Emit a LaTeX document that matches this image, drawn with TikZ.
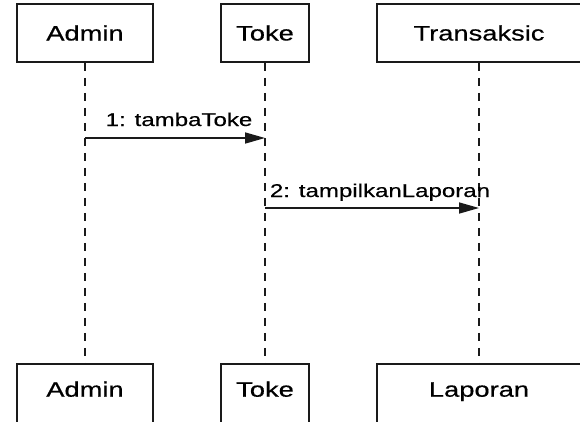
\documentclass[tikz,border=0pt]{standalone}
\usepackage{fontspec}
\setmainfont{Liberation Sans}[FakeBold=0.4]
\usetikzlibrary{arrows.meta}
\definecolor{ink}{HTML}{1A1A1A}
% horizontally widened lettering
\newcommand{\widetext}[1]{\scalebox{1.3}[1]{#1}}
\tikzset{
  objbox/.style={draw=ink, line width=1.6pt, fill=white, inner sep=0pt,
    minimum height=58pt, text height=15pt, text depth=0pt,
    font=\fontsize{21}{22}\selectfont},
  objfoot/.style={objbox, minimum height=61pt, text depth=10.6pt},
  lifeline/.style={draw=ink, line width=1.6pt, dash pattern=on 8pt off 7pt},
  msgarrow/.style={draw=ink, line width=1.6pt, -{Triangle[length=20pt,width=11pt]}},
  msglabel/.style={anchor=base, inner sep=0pt, font=\fontsize{18.5}{19}\selectfont}
}
\begin{document}
\begin{tikzpicture}[x=1pt,y=-1pt]
  \useasboundingbox (0,0) rectangle (580,421);
  \clip (0,0) rectangle (580,421);
  \fill[white] (0,0) rectangle (580,421);

  % object heads
  \node[objbox, minimum width=136pt] (adminTop) at (85,33) {\widetext{Admin}};
  \node[objbox, minimum width=88pt]  (tokeTop)  at (265,33) {\widetext{Toke}};
  \node[objbox, minimum width=204pt] (transTop) at (479,33) {\widetext{Transaksic}};

  % object feet
  \node[objfoot, minimum width=136pt] (adminBot) at (85,394.5) {\widetext{Admin}};
  \node[objfoot, minimum width=88pt]  (tokeBot)  at (265,394.5) {\widetext{Toke}};
  \node[objfoot, minimum width=204pt] (lapBot)   at (479,394.5) {\widetext{Laporan}};

  % lifelines
  \draw[lifeline] (adminTop.south) -- (adminBot.north);
  \draw[lifeline] (tokeTop.south) -- (tokeBot.north);
  \draw[lifeline] (transTop.south) -- (lapBot.north);

  % message anchor points on the lifelines
  \coordinate (m1from) at (adminTop.south |- 0,138);
  \coordinate (m1to)   at (tokeTop.south |- 0,138);
  \coordinate (m2from) at (tokeTop.south |- 0,208);
  \coordinate (m2to)   at (transTop.south |- 0,208);

  % messages
  \draw[msgarrow] (m1from) -- (m1to);
  \node[msglabel] (m1text) at (179,126) {\widetext{1: tambaToke}};
  \draw[msgarrow] (m2from) -- (m2to);
  \node[msglabel] (m2text) at (380,197) {\widetext{2: tampilkanLaporan}};
\end{tikzpicture}
\end{document}
